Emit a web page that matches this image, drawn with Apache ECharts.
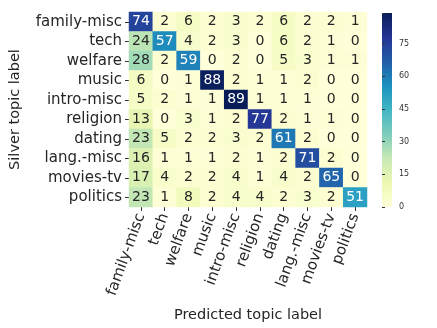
<!DOCTYPE html>
<html>
<head>
<meta charset="utf-8">
<script src="https://cdn.jsdelivr.net/npm/echarts@6/dist/echarts.min.js"></script>
<style>
  html, body { margin: 0; padding: 0; background: #fff; }
  #chart { width: 437px; height: 328px; }
</style>
</head>
<body>
<div id="chart"></div>
<script>
const predicted = ["family-misc", "tech", "welfare", "music", "intro-misc", "religion", "dating", "lang.-misc", "movies-tv", "politics"];
const silver = ["family-misc", "tech", "welfare", "music", "intro-misc", "religion", "dating", "lang.-misc", "movies-tv", "politics"];
const counts = [
  [74, 2, 6, 2, 3, 2, 6, 2, 2, 1],
  [24, 57, 4, 2, 3, 0, 6, 2, 1, 0],
  [28, 2, 59, 0, 2, 0, 5, 3, 1, 1],
  [6, 0, 1, 88, 2, 1, 1, 2, 0, 0],
  [5, 2, 1, 1, 89, 1, 1, 1, 0, 0],
  [13, 0, 3, 1, 2, 77, 2, 1, 1, 0],
  [23, 5, 2, 2, 3, 2, 61, 2, 0, 0],
  [16, 1, 1, 1, 2, 1, 2, 71, 2, 0],
  [17, 4, 2, 2, 4, 1, 4, 2, 65, 0],
  [23, 1, 8, 2, 4, 4, 2, 3, 2, 51]
];
const colorbarTicks = [0, 15, 30, 45, 60, 75];

const vmax = 89;
const palette = ["#ffffd9", "#edf8b1", "#c7e9b4", "#7fcdbb", "#41b6c4", "#1d91c0", "#225ea8", "#253494", "#081d58"];
const font = "'DejaVu Sans', sans-serif";

const cells = [];
counts.forEach((row, i) => {
  row.forEach((v, j) => {
    cells.push({
      value: [j, i, v],
      label: { color: v > 45 ? "#ffffff" : "#262626" }
    });
  });
});

const chart = echarts.init(document.getElementById("chart"));
chart.setOption({
  animation: false,
  textStyle: { fontFamily: font },
  grid: [
    { left: 120, top: 12, width: 247, height: 197 },
    { left: 382, top: 13, width: 10, height: 194 }
  ],
  xAxis: [
    {
      type: "category",
      data: predicted,
      gridIndex: 0,
      name: "Predicted topic label",
      nameLocation: "middle",
      nameGap: 101,
      nameTextStyle: { fontSize: 14.5, color: "#262626", fontFamily: font },
      axisLine: { show: false },
      axisTick: { show: true, alignWithLabel: true, length: 4, lineStyle: { color: "#333" } },
      axisLabel: { rotate: 70, fontSize: 15, color: "#262626", margin: 7, interval: 0, hideOverlap: false, fontFamily: font },
      splitLine: { show: false }
    },
    { type: "value", gridIndex: 1, show: false, min: 0, max: 1 }
  ],
  yAxis: [
    {
      type: "category",
      data: silver,
      gridIndex: 0,
      inverse: true,
      name: "Silver topic label",
      nameLocation: "middle",
      nameGap: 106,
      nameTextStyle: { fontSize: 14.5, color: "#262626", fontFamily: font },
      axisLine: { show: false },
      axisTick: { show: true, alignWithLabel: true, length: 4, lineStyle: { color: "#333" } },
      axisLabel: { fontSize: 15, color: "#262626", margin: 7, interval: 0, hideOverlap: false, fontFamily: font },
      splitLine: { show: false }
    },
    {
      type: "value",
      gridIndex: 1,
      position: "right",
      min: 0,
      max: vmax,
      interval: 15,
      axisLine: { show: false },
      axisTick: { show: true, length: 3, lineStyle: { color: "#333" } },
      axisLabel: {
        fontSize: 8, color: "#333", margin: 7, fontFamily: font,
        formatter: v => (colorbarTicks.includes(v) ? String(v) : "")
      },
      splitLine: { show: false }
    }
  ],
  visualMap: {
    show: false,
    min: 0,
    max: vmax,
    seriesIndex: 0,
    dimension: 2,
    inRange: { color: palette }
  },
  graphic: [
    {
      type: "rect",
      shape: { x: 382, y: 13, width: 10, height: 194 },
      style: {
        fill: new echarts.graphic.LinearGradient(0, 1, 0, 0,
          palette.map((c, k) => ({ offset: k / (palette.length - 1), color: c })))
      },
      z: 0
    }
  ],
  series: [
    {
      type: "heatmap",
      xAxisIndex: 0,
      yAxisIndex: 0,
      data: cells,
      label: { show: true, fontSize: 14, fontFamily: font },
      itemStyle: { borderWidth: 0 },
      emphasis: { disabled: true }
    }
  ]
});
</script>
</body>
</html>
